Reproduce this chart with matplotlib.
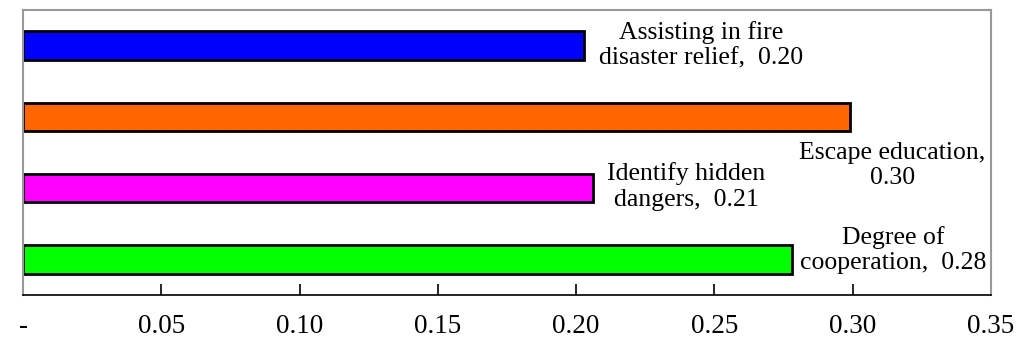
import matplotlib
matplotlib.use("Agg")
import matplotlib.pyplot as plt

categories = ["Assisting in fire\ndisaster relief", "Escape education",
              "Identify hidden\ndangers", "Degree of\ncooperation"]
values = [0.203, 0.299, 0.206, 0.278]
value_labels = ["0.20", "0.30", "0.21", "0.28"]
colors = ["#0000FF", "#FF6600", "#FF00FF", "#00FF00"]
tick_vals = [0, 0.05, 0.10, 0.15, 0.20, 0.25, 0.30, 0.35]
tick_labels = ["-", "0.05", "0.10", "0.15", "0.20", "0.25", "0.30", "0.35"]

label_texts = [
    "Assisting in fire\ndisaster relief,  0.20",
    "Escape education,\n0.30",
    "Identify hidden\ndangers,  0.21",
    "Degree of\ncooperation,  0.28",
]
label_pos = [(0.2452, 0.0), (0.3143, 1.68), (0.2397, 1.98), (0.3146, 2.87)]

plt.rcParams['font.family'] = ['Liberation Serif', 'DejaVu Serif']

fig = plt.figure(figsize=(10.21, 3.41), dpi=100)
ax = fig.add_axes([23/1021, 1 - 295/341, (991-23)/1021, (295-10)/341])

ypos = list(range(len(values)))
ax.barh(ypos, values, height=0.4, color=colors, edgecolor='black', linewidth=2)
ax.set_ylim(3.5, -0.5)
ax.set_xlim(0, 0.35)
ax.set_yticks([])
ax.set_xticks(tick_vals)
ax.set_xticklabels(tick_labels, fontsize=19.5)
ax.tick_params(axis='x', direction='in', length=8, width=1.2, pad=14, colors='black')
ax.get_xticklabels()[0].set_x(-0.003)
for s in ['top', 'left', 'right']:
    ax.spines[s].set_color('#999999')
    ax.spines[s].set_linewidth(1.5)
ax.spines['bottom'].set_color('black')
ax.spines['bottom'].set_linewidth(1.2)

for txt, (x, y) in zip(label_texts, label_pos):
    ax.text(x, y, txt, ha='center', va='center', fontsize=18.5, linespacing=1.2)

fig.savefig("out.png", dpi=100)
